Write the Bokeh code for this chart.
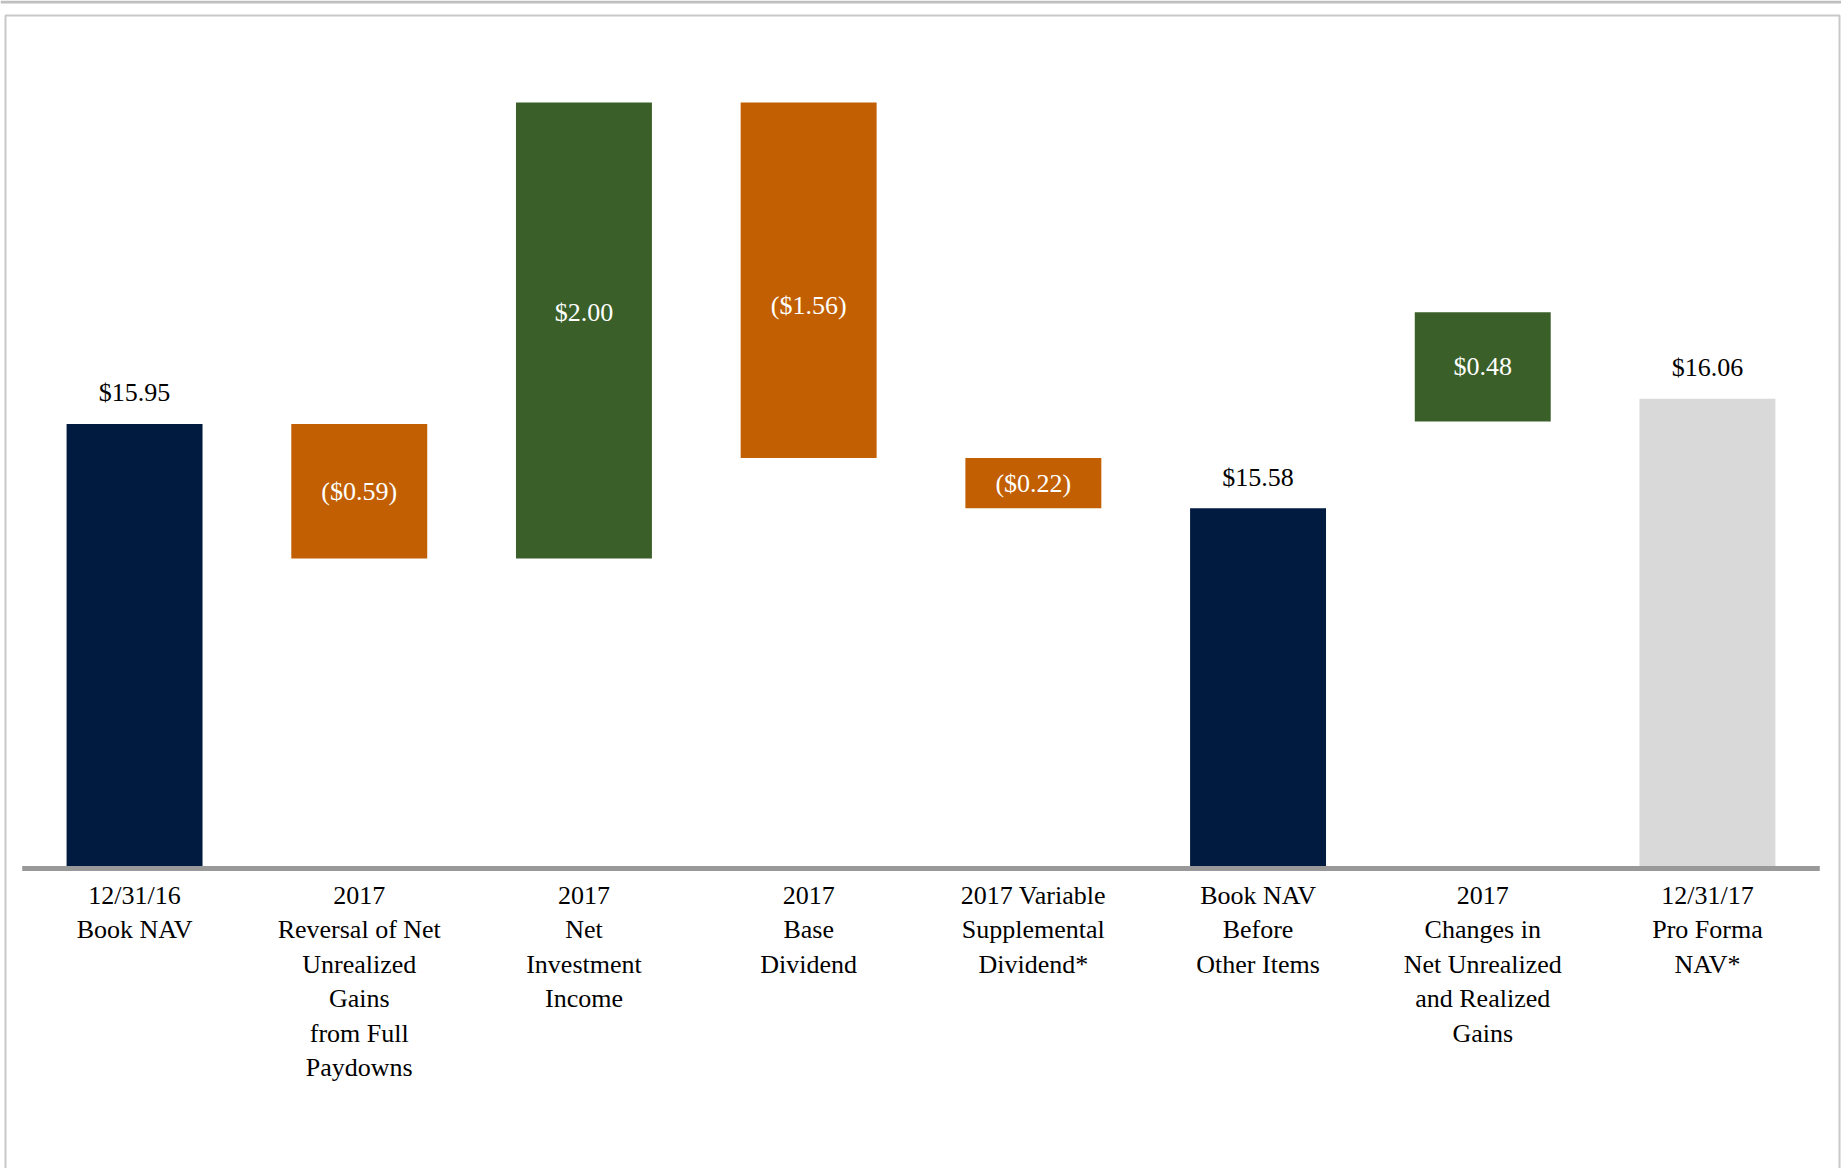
from bokeh.plotting import figure
from bokeh.models import FactorRange, Range1d, ColumnDataSource, Span
from bokeh.core.properties import value
from bokeh.embed import file_html
from bokeh.resources import INLINE

# ---------------- data ----------------
keys = ["nav16", "reversal", "nii", "base_div", "var_div", "nav_before", "changes", "nav17"]
cat_labels = [
    "12/31/16\nBook NAV",
    "2017\nReversal of Net\nUnrealized\nGains\nfrom Full\nPaydowns",
    "2017\nNet\nInvestment\nIncome",
    "2017\nBase\nDividend",
    "2017 Variable\nSupplemental\nDividend*",
    "Book NAV\nBefore\nOther Items",
    "2017\nChanges in\nNet Unrealized\nand Realized\nGains",
    "12/31/17\nPro Forma\nNAV*",
]
values = [15.95, -0.59, 2.00, -1.56, -0.22, 15.58, 0.48, 16.06]
kinds = ["total", "step", "step", "step", "step", "total", "step", "total"]
floating_base = [None, None, None, None, None, None, 15.96, None]
value_labels = ["$15.95", "($0.59)", "$2.00", "($1.56)", "($0.22)", "$15.58", "$0.48", "$16.06"]
AXIS_FLOOR = 14.0

# ---------------- styles ----------------
NAVY = "#001a40"
ORANGE = "#c25f03"
GREEN = "#3a5f29"
LIGHT = "#d9d9d9"
FONT = value("Liberation Serif")
FS = "26px"

# waterfall geometry from the values
bottoms, tops, colors = [], [], []
running = None
for i, (v, k, fb) in enumerate(zip(values, kinds, floating_base)):
    if k == "total":
        bottoms.append(AXIS_FLOOR)
        tops.append(v)
        running = v
        colors.append(LIGHT if i == len(values) - 1 else NAVY)
    else:
        b = running if fb is None else fb
        nb = b + v
        bottoms.append(min(b, nb))
        tops.append(max(b, nb))
        running = nb
        colors.append(GREEN if v > 0 else ORANGE)

W, H = 1841, 1168
PX_PER_UNIT = 228.0
PAD = 0.0966
unit_px = W / (len(keys) + 2 * PAD)
y_end = AXIS_FLOOR + 868 / PX_PER_UNIT
y_start = y_end - H / PX_PER_UNIT

p = figure(
    width=W, height=H,
    x_range=FactorRange(factors=keys, range_padding=PAD, range_padding_units="absolute"),
    y_range=Range1d(y_start, y_end),
    x_axis_location=None, y_axis_location=None,
    toolbar_location=None, output_backend="svg",
    min_border=0, outline_line_color=None,
    background_fill_color="white", border_fill_color="white",
)
p.grid.visible = False

# frame decorations
p.add_layout(Span(location=y_end - 1.5 / PX_PER_UNIT, dimension="width",
                  line_color="#bfbfbf", line_width=3))
sx_left = 5.0 / unit_px - PAD
sx_right = 1839.0 / unit_px - PAD
y_box_top = y_end - 15.0 / PX_PER_UNIT
p.line(x=[sx_left, sx_left, sx_right, sx_right],
       y=[y_start, y_box_top, y_box_top, y_start],
       line_color="#c8c8c8", line_width=2)

src = ColumnDataSource(dict(x=keys, top=tops, bottom=bottoms, color=colors))
p.vbar(x="x", top="top", bottom="bottom", width=0.605, fill_color="color",
       line_color=None, source=src)

# baseline
p.segment(x0=[0], y0=[AXIS_FLOOR], x1=[len(keys)], y1=[AXIS_FLOOR],
          line_color="#999999", line_width=5)

# value labels
out_x, out_y, out_t = [], [], []
in_x, in_y, in_t, in_off = [], [], [], []
nudge = {2: -18, 3: 25}
for i, k in enumerate(keys):
    if kinds[i] == "total":
        out_x.append(k); out_y.append(tops[i]); out_t.append(value_labels[i])
    else:
        in_x.append(k); in_y.append((tops[i] + bottoms[i]) / 2)
        in_t.append(value_labels[i]); in_off.append(nudge.get(i, 0))

p.text(x=out_x, y=out_y, text=out_t, text_font=FONT, text_font_size=FS,
       text_align="center", text_baseline="alphabetic", y_offset=-31,
       text_color="#000000")
isrc = ColumnDataSource(dict(x=in_x, y=in_y, t=in_t, off=in_off))
p.text(x="x", y="y", text="t", y_offset="off", source=isrc, text_font=FONT,
       text_font_size=FS, text_align="center", text_baseline="middle",
       text_color="#ffffff")

# category labels
p.text(x=keys, y=[AXIS_FLOOR] * len(keys), text=cat_labels, text_font=FONT,
       text_font_size=FS, text_align="center", text_baseline="top",
       y_offset=12, text_line_height=1.19, text_color="#000000")

open("out.html", "w").write(file_html(p, INLINE))
